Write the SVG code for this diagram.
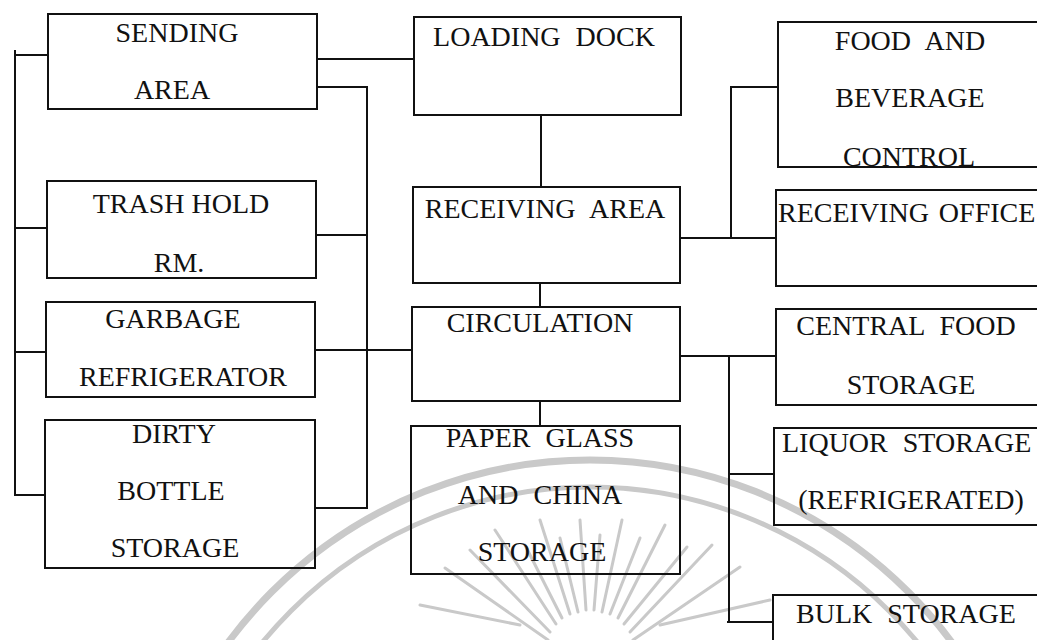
<svg xmlns="http://www.w3.org/2000/svg" width="1037" height="640" viewBox="0 0 1037 640">
<style>
.box{fill:none;stroke:#111;stroke-width:2}
.ln{fill:none;stroke:#111;stroke-width:2}
text{font-family:"Liberation Serif","Times New Roman",serif;font-size:28px;fill:#111}
.c{text-anchor:middle}
.w{word-spacing:8px}
.wm{fill:none;stroke:#c9c9c9;stroke-linecap:round}
</style>
<rect width="1037" height="640" fill="#fff"/>
<g id="watermark">
<path class="wm" stroke-width="7" d="M 140,910 A 450,450 0 0 1 1040,910"/>
<path class="wm" stroke-width="5" d="M 167,910 A 423,423 0 0 1 1013,910"/>
<g stroke-width="3" class="wm">
<line x1="548" y1="640" x2="445" y2="568"/>
<line x1="550" y1="632" x2="470" y2="550"/>
<line x1="556" y1="624" x2="495" y2="530"/>
<line x1="562" y1="618" x2="525" y2="545"/>
<line x1="570" y1="614" x2="540" y2="520"/>
<line x1="578" y1="612" x2="560" y2="538"/>
<line x1="586" y1="610" x2="580" y2="520"/>
<line x1="594" y1="610" x2="600" y2="535"/>
<line x1="602" y1="612" x2="622" y2="520"/>
<line x1="610" y1="614" x2="640" y2="538"/>
<line x1="618" y1="618" x2="665" y2="525"/>
<line x1="624" y1="624" x2="687" y2="547"/>
<line x1="630" y1="632" x2="712" y2="545"/>
<line x1="633" y1="640" x2="740" y2="567"/>
<line x1="420" y1="605" x2="520" y2="625"/>
<line x1="660" y1="625" x2="770" y2="600"/>
</g>
</g>
<g id="connectors">
<path class="ln" d="M15,50 V495 H45"/>
<path class="ln" d="M15,55 H48"/>
<path class="ln" d="M15,228 H47"/>
<path class="ln" d="M15,352 H46"/>
<path class="ln" d="M317,87 H367 V508 H315"/>
<path class="ln" d="M316,235 H367"/>
<path class="ln" d="M315,350 H412"/>
<path class="ln" d="M317,59 H414"/>
<path class="ln" d="M541,115 V187"/>
<path class="ln" d="M540,283 V307"/>
<path class="ln" d="M540,401 V426"/>
<path class="ln" d="M680,238 H776"/>
<path class="ln" d="M731,238 V87 H778"/>
<path class="ln" d="M680,356 H776"/>
<path class="ln" d="M729,356 V622"/>
<path class="ln" d="M729,474 H774"/>
<path class="ln" d="M727,622 H773"/>
</g>
<g id="sending-area">
<rect class="box" x="48" y="14" width="269" height="95"/>
<text class="c" x="177" y="42">SENDING</text>
<text class="c" x="172" y="99">AREA</text>
</g>
<g id="trash-hold">
<rect class="box" x="47" y="181" width="269" height="97"/>
<text class="c" x="181" y="213">TRASH HOLD</text>
<text class="c" x="179" y="272">RM.</text>
</g>
<g id="garbage-refrigerator">
<rect class="box" x="46" y="302" width="269" height="95"/>
<text class="c" x="173" y="328">GARBAGE</text>
<text class="c" x="183" y="386">REFRIGERATOR</text>
</g>
<g id="dirty-bottle-storage">
<rect class="box" x="45" y="420" width="270" height="148"/>
<text class="c" x="174" y="443">DIRTY</text>
<text class="c" x="171" y="500">BOTTLE</text>
<text class="c" x="175" y="557">STORAGE</text>
</g>
<g id="loading-dock">
<rect class="box" x="414" y="17" width="267" height="98"/>
<text class="c w" x="544" y="46">LOADING DOCK</text>
</g>
<g id="receiving-area">
<rect class="box" x="413" y="187" width="267" height="96"/>
<text class="c w" x="545" y="218">RECEIVING AREA</text>
</g>
<g id="circulation">
<rect class="box" x="412" y="307" width="268" height="94"/>
<text class="c" x="540" y="332">CIRCULATION</text>
</g>
<g id="paper-glass-china-storage">
<rect class="box" x="411" y="426" width="269" height="148"/>
<text class="c w" x="540" y="447">PAPER GLASS</text>
<text class="c w" x="540" y="504">AND CHINA</text>
<text class="c" x="542" y="561">STORAGE</text>
</g>
<g id="food-beverage-control">
<rect class="box" x="778" y="22" width="270" height="145"/>
<text class="c w" x="910" y="50">FOOD AND</text>
<text class="c" x="910" y="107">BEVERAGE</text>
<text class="c" x="909" y="166">CONTROL</text>
</g>
<g id="receiving-office">
<rect class="box" x="776" y="190" width="272" height="96"/>
<text style="word-spacing:3px" x="778" y="222">RECEIVING OFFICE</text>
</g>
<g id="central-food-storage">
<rect class="box" x="776" y="309" width="272" height="96"/>
<text class="c w" x="906" y="335">CENTRAL FOOD</text>
<text class="c" x="911" y="394">STORAGE</text>
</g>
<g id="liquor-storage">
<rect class="box" x="774" y="428" width="274" height="97"/>
<text class="w" x="782" y="452">LIQUOR STORAGE</text>
<text class="c" x="911" y="509">(REFRIGERATED)</text>
</g>
<g id="bulk-storage">
<rect class="box" x="773" y="595" width="275" height="60"/>
<text class="w" x="796" y="623">BULK STORAGE</text>
</g>
</svg>
